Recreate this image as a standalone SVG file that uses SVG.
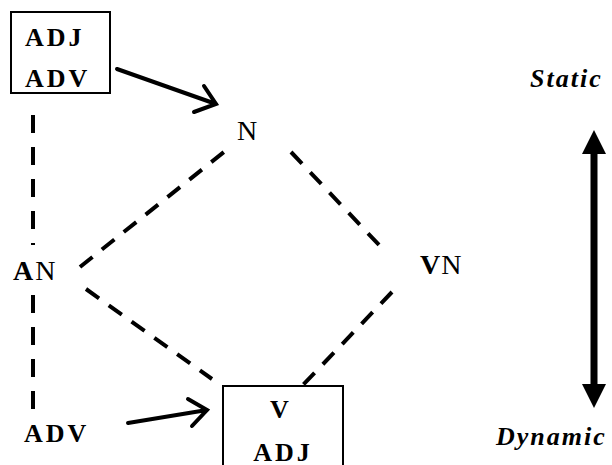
<svg xmlns="http://www.w3.org/2000/svg" width="612" height="465" viewBox="0 0 612 465">
<style>
text{font-family:"Liberation Serif","Times New Roman",serif;font-size:26px;fill:#000}
.b{font-weight:bold;letter-spacing:3px}
.r{font-weight:normal}
.lg{font-size:28px}
.i{font-weight:bold;font-style:italic;letter-spacing:2px}
.box{fill:none;stroke:#000;stroke-width:2}
.dash{fill:none;stroke:#000;stroke-width:4;stroke-dasharray:16 12}
.vdash{fill:none;stroke:#000;stroke-width:4;stroke-dasharray:18 14}
.arr{fill:none;stroke:#000;stroke-width:4;stroke-linecap:round;stroke-linejoin:miter}
</style>
<rect width="612" height="465" fill="#fff"/>
<g id="connectors">
<path class="vdash" d="M33,115 V245"/>
<path class="vdash" d="M33,295 V410"/>
<path class="dash" d="M80,267 L224,152"/>
<path class="dash" d="M86,289 L212,379"/>
<path class="dash" d="M291,152 L380,246"/>
<path class="dash" d="M392,292 L303,385"/>
<path class="arr" d="M117,69 L216,104 M194,112 L216,104 L204,86"/>
<path class="arr" d="M128,423 L207,410 M188,399 L207,410 L192,426"/>
<path d="M590.5,150 H597.5 V386 H590.5 Z" fill="#000"/>
<path d="M594,130 L606,154 L582,154 Z" fill="#000"/>
<path d="M594,408 L606,384 L582,384 Z" fill="#000"/>
</g>
<g id="node-adj-adv-top">
<rect class="box" x="11" y="12" width="99" height="81"/>
<text class="b" x="25" y="46">ADJ</text>
<text class="b" x="25" y="87">ADV</text>
</g>
<g id="node-n">
<text class="r lg" x="237" y="140">N</text>
</g>
<g id="node-an">
<text class="lg" x="13" y="280" letter-spacing="2"><tspan font-weight="bold">A</tspan><tspan class="r">N</tspan></text>
</g>
<g id="node-vn">
<text class="lg" x="420" y="274" letter-spacing="1"><tspan font-weight="bold">V</tspan><tspan class="r">N</tspan></text>
</g>
<g id="node-v-adj">
<rect class="box" x="223" y="386" width="120" height="100"/>
<text class="b" x="281" y="418" text-anchor="middle">V</text>
<text class="b" x="283" y="461" text-anchor="middle">ADJ</text>
</g>
<g id="node-adv-bottom">
<text class="b" x="24" y="442">ADV</text>
</g>
<g id="label-static">
<text class="i" x="530" y="87" letter-spacing="1.5">Static</text>
</g>
<g id="label-dynamic">
<text class="i" x="496" y="445" letter-spacing="3">Dynamic</text>
</g>
</svg>
